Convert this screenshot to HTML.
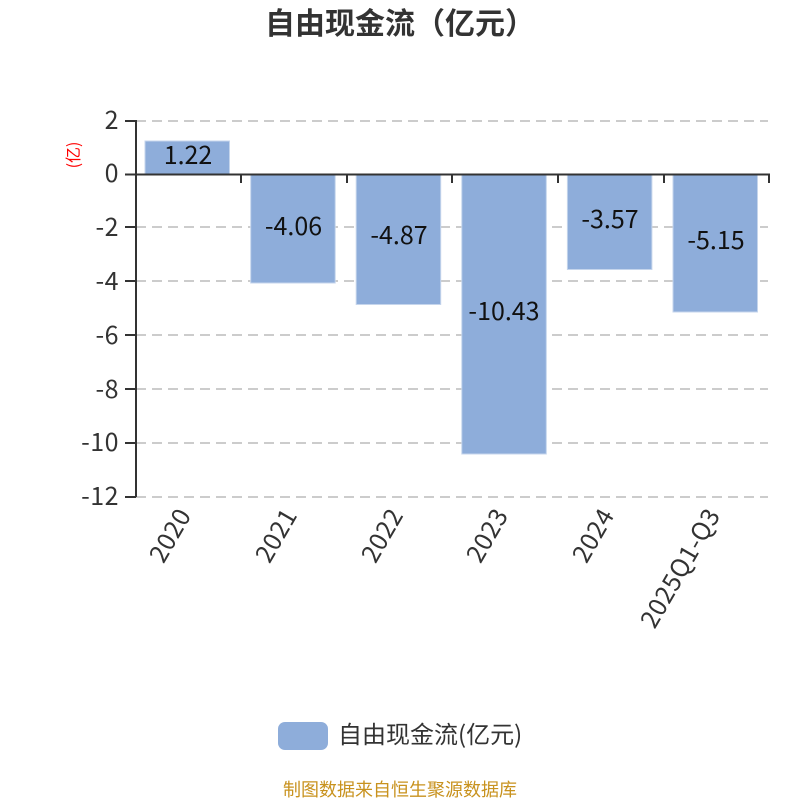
<!DOCTYPE html>
<html><head><meta charset="utf-8"><style>
html,body{margin:0;padding:0;background:#fff}
svg{display:block}
text{font-family:"Noto Sans CJK SC",sans-serif}
</style></head><body>
<svg width="800" height="800" viewBox="0 0 800 800" xmlns="http://www.w3.org/2000/svg">
<text x="400" y="34" text-anchor="middle" font-size="30" font-weight="700" fill="#333">自由现金流（亿元）</text>
<g stroke="#ccc" stroke-width="2" stroke-dasharray="10 6">
<line x1="136" x2="768" y1="121" y2="121"/>
<line x1="136" x2="768" y1="227" y2="227"/>
<line x1="136" x2="768" y1="281" y2="281"/>
<line x1="136" x2="768" y1="335" y2="335"/>
<line x1="136" x2="768" y1="389" y2="389"/>
<line x1="136" x2="768" y1="443" y2="443"/>
<line x1="136" x2="768" y1="497" y2="497"/>
</g>
<g fill="#8eadda" stroke="#c5d5ec" stroke-width="1">
<rect x="145" y="141" width="84.5" height="33"/>
<rect x="250.7" y="174" width="84.5" height="109"/>
<rect x="356.2" y="174" width="84.5" height="130.5"/>
<rect x="461.8" y="174" width="84.5" height="280"/>
<rect x="567.4" y="174" width="84.5" height="95.5"/>
<rect x="673" y="174" width="84.5" height="138"/>
</g>
<g stroke="#333" stroke-width="2" fill="none">
<line x1="136" x2="136" y1="120" y2="497"/>
<line x1="125" x2="770" y1="174.5" y2="174.5"/>
<line x1="125" x2="136" y1="121" y2="121"/>
<line x1="125" x2="136" y1="227" y2="227"/>
<line x1="125" x2="136" y1="281" y2="281"/>
<line x1="125" x2="136" y1="335" y2="335"/>
<line x1="125" x2="136" y1="389" y2="389"/>
<line x1="125" x2="136" y1="443" y2="443"/>
<line x1="125" x2="136" y1="497" y2="497"/>
<line x1="241" x2="241" y1="174" y2="183"/>
<line x1="347" x2="347" y1="174" y2="183"/>
<line x1="452" x2="452" y1="174" y2="183"/>
<line x1="558" x2="558" y1="174" y2="183"/>
<line x1="664" x2="664" y1="174" y2="183"/>
<line x1="769" x2="769" y1="174" y2="183"/>
</g>
<g font-size="25" fill="#333" text-anchor="end" letter-spacing="0.5">
<text x="119" y="129">2</text>
<text x="119" y="182">0</text>
<text x="119" y="236">-2</text>
<text x="119" y="290">-4</text>
<text x="119" y="344">-6</text>
<text x="119" y="398">-8</text>
<text x="119" y="451">-10</text>
<text x="119" y="505">-12</text>
</g>
<text font-size="16" fill="#f00" text-anchor="middle" transform="translate(79 155) rotate(-90)">(亿)</text>
<g font-size="25" fill="#111" text-anchor="middle">
<text x="188" y="164">1.22</text>
<text x="293.5" y="235">-4.06</text>
<text x="399" y="244">-4.87</text>
<text x="504" y="320">-10.43</text>
<text x="610" y="228">-3.57</text>
<text x="716" y="249">-5.15</text>
</g>
<g font-size="25" fill="#333" text-anchor="end" letter-spacing="0.4">
<text transform="translate(192 515) rotate(-60)">2020</text>
<text transform="translate(298 515) rotate(-60)">2021</text>
<text transform="translate(404 515) rotate(-60)">2022</text>
<text transform="translate(509 515) rotate(-60)">2023</text>
<text transform="translate(615 515) rotate(-60)">2024</text>
<text transform="translate(721 515) rotate(-60)">2025Q1-Q3</text>
</g>
<rect x="278" y="722" width="50" height="28" rx="7" fill="#8eadda"/>
<text x="338" y="743" font-size="24" fill="#333">自由现金流(亿元)</text>
<text x="400" y="796" text-anchor="middle" font-size="18" fill="#c8921e">制图数据来自恒生聚源数据库</text>
</svg>
</body></html>
